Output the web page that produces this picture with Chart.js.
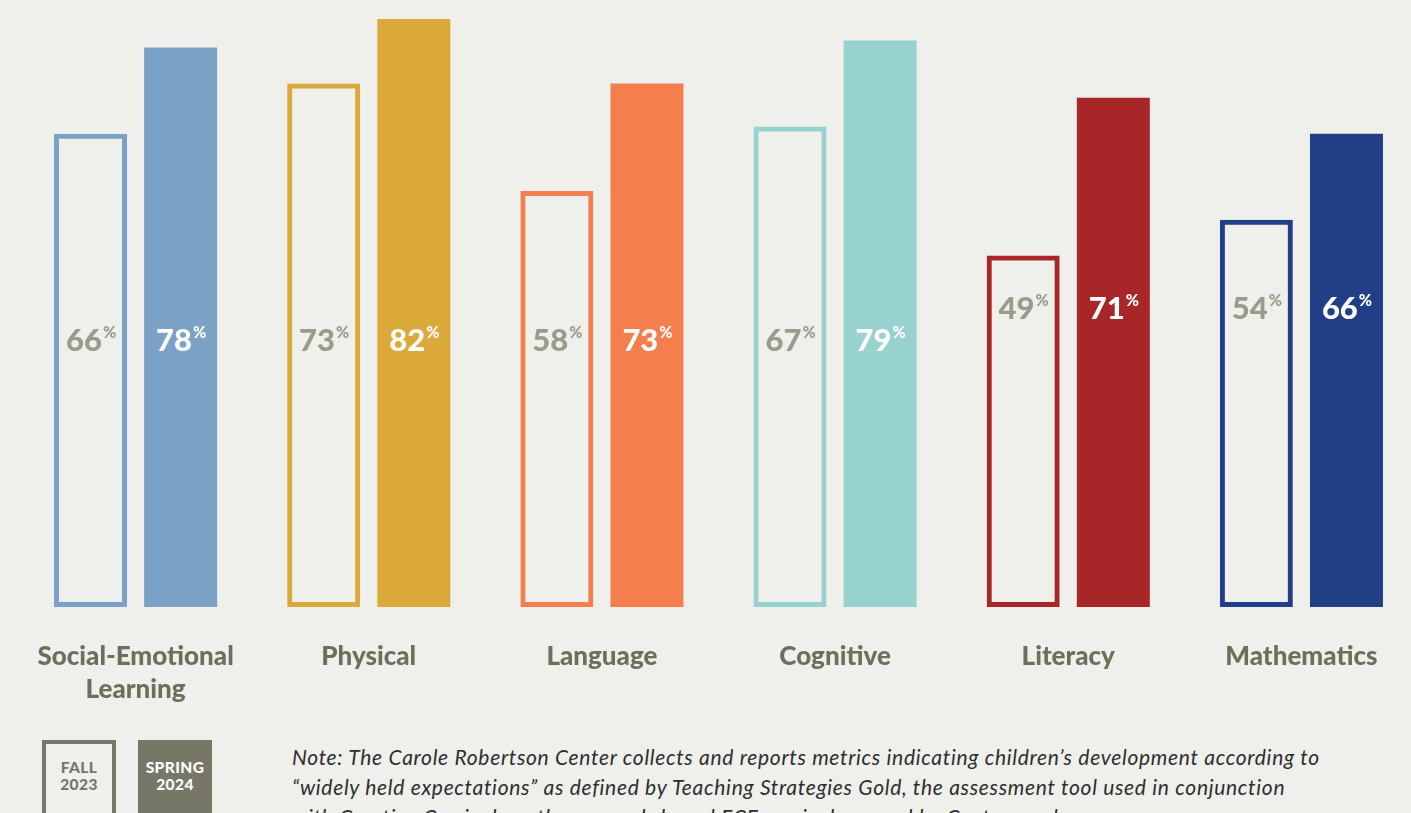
<!DOCTYPE html>
<html>
<head>
<meta charset="utf-8">
<script src="https://cdn.jsdelivr.net/npm/chart.js@4.4.1/dist/chart.umd.min.js"></script>
<style>
    html, body {
        margin: 0;
        padding: 0;
        width: 1411px;
        height: 813px;
        overflow: hidden;
        background: #efefeb;
        font-family: 'Lato', 'Open Sans', sans-serif;
    }
    #chartWrap {
        position: absolute;
        left: 0;
        top: 0;
        width: 1420px;
        height: 720px;
    }
    .legend-box {
        position: absolute;
        top: 740px;
        width: 74px;
        height: 80px;
        box-sizing: border-box;
        text-align: center;
        font-weight: 900;
        font-size: 15.5px;
        line-height: 17px;
        padding-top: 19px;
        letter-spacing: 0.4px;
    }
    #legendFall {
        left: 42px;
        border: 4px solid #767766;
        color: #767766;
        padding-top: 15px;
    }
    #legendSpring {
        left: 138px;
        background: #767766;
        color: #ffffff;
    }
    #note {
        position: absolute;
        left: 292px;
        top: 742px;
        width: 1110px;
        font-style: italic;
        font-size: 21px;
        letter-spacing: 0.7px;
        line-height: 30px;
        color: #2e2e2e;
        white-space: nowrap;
    }
</style>
</head>
<body>
<div id="chartWrap"><canvas id="devChart"></canvas></div>
<div class="legend-box" id="legendFall">FALL<br>2023</div>
<div class="legend-box" id="legendSpring">SPRING<br>2024</div>
<div id="note">Note: The Carole Robertson Center collects and reports metrics indicating children’s development according to<br>“widely held expectations” as defined by Teaching Strategies Gold, the assessment tool used in conjunction<br>with Creative Curriculum, the research-based ECE curriculum used by Centers and</div>

<script>
// Children's development: share meeting widely held expectations, Fall 2023 vs Spring 2024

const categories = [
    ['Social-Emotional', 'Learning'],
    'Physical',
    'Language',
    'Cognitive',
    'Literacy',
    'Mathematics'
];

const fall2023 = [66, 73, 58, 67, 49, 54];
const spring2024 = [78, 82, 73, 79, 71, 66];

// one colour per domain
const domainColors = ['#7ba1c7', '#dba83a', '#f47f4c', '#98d2cf', '#a82628', '#213f87'];

const COLORS = {
    fallText: '#9b9b8c',
    springText: '#ffffff',
    axisText: '#6e6e5c'
};

// where the value label sits inside the bars (in % units of the y scale)
const labelLevel = [37.1, 37.1, 37.1, 37.1, 41.6, 41.6];

const valueLabels = {
    id: 'valueLabels',
    afterDatasetsDraw(chart) {
        const ctx = chart.ctx;
        const yScale = chart.scales.y;
        chart.data.datasets.forEach((ds, di) => {
            const meta = chart.getDatasetMeta(di);
            meta.data.forEach((bar, i) => {
                const num = String(ds.data[i]);
                const y = yScale.getPixelForValue(labelLevel[i]);
                ctx.save();
                ctx.fillStyle = di === 0 ? COLORS.fallText : COLORS.springText;
                ctx.textBaseline = 'middle';
                ctx.font = '900 31px Lato';
                const wNum = ctx.measureText(num).width;
                ctx.font = '900 16px Lato';
                const wPct = ctx.measureText('%').width;
                const x0 = bar.x - (wNum + wPct) / 2;
                ctx.font = '900 31px Lato';
                ctx.textAlign = 'left';
                ctx.fillText(num, x0, y);
                ctx.font = '900 16px Lato';
                ctx.fillText('%', x0 + wNum + 1, y - 8);
                ctx.restore();
            });
        });
    }
};

function renderChart() {
    const ctx = document.getElementById('devChart').getContext('2d');

    new Chart(ctx, {
        type: 'bar',
        data: {
            labels: categories,
            datasets: [
                {
                    label: 'Fall 2023',
                    data: fall2023,
                    backgroundColor: 'rgba(0,0,0,0)',
                    borderColor: domainColors,
                    borderWidth: 5,
                    borderSkipped: false,
                    categoryPercentage: 0.773,
                    barPercentage: 0.81
                },
                {
                    label: 'Spring 2024',
                    data: spring2024,
                    backgroundColor: domainColors,
                    borderWidth: 0,
                    categoryPercentage: 0.773,
                    barPercentage: 0.81
                }
            ]
        },
        options: {
            responsive: true,
            maintainAspectRatio: false,
            animation: false,
            layout: { padding: { left: 19, right: 2, top: 1, bottom: 0 } },
            plugins: {
                legend: { display: false },
                tooltip: { enabled: false }
            },
            scales: {
                x: {
                    grid: { display: false, drawTicks: false },
                    border: { display: false },
                    ticks: {
                        color: COLORS.axisText,
                        font: { family: 'Lato', size: 26, weight: '900', lineHeight: 1.27 },
                        padding: 33,
                        maxRotation: 0,
                        autoSkip: false
                    },
                    afterFit: (scale) => { scale.height = 113; }
                },
                y: {
                    display: false,
                    min: 0,
                    max: 84.5
                }
            }
        },
        plugins: [valueLabels]
    });
}

renderChart();
</script>
</body>
</html>
